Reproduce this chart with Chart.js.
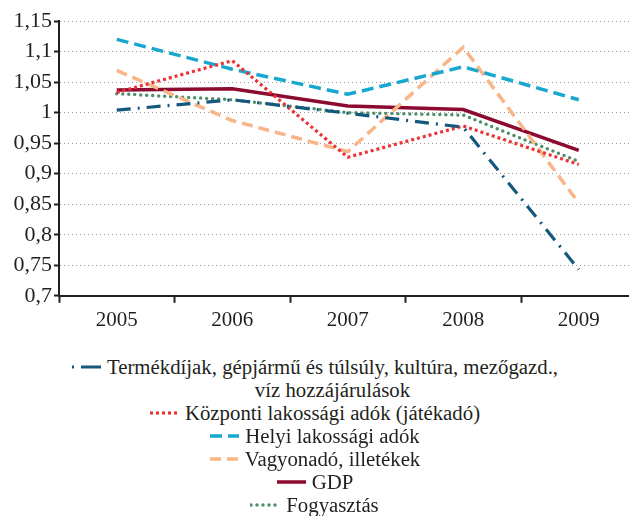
<!DOCTYPE html>
<html>
<head>
<meta charset="utf-8">
<script src="https://cdn.jsdelivr.net/npm/chart.js@4/dist/chart.umd.min.js"></script>
<style>
  html, body { margin: 0; padding: 0; background: #fff; overflow: hidden; width: 629px; height: 516px; }
  #chartCanvas { display: block; }
  .legend { margin-top: 10px; width: 629px; font-family: "Liberation Serif", serif; font-size: 20.8px; line-height: 23px; color: #231f20; }
  .legend-item { display: flex; justify-content: center; align-items: flex-start; }
  .legend-swatch { flex: none; margin-right: 6px; }
  .legend-text { white-space: pre-line; text-align: center; }
</style>
</head>
<body>
<canvas id="chartCanvas" width="640" height="345"></canvas>
<div id="legend" class="legend"></div>
<script>
const years = ["2005", "2006", "2007", "2008", "2009"];
const yTickLabels = ["0,7", "0,75", "0,8", "0,85", "0,9", "0,95", "1", "1,05", "1,1", "1,15"];

const termekdijak = [1.004, 1.021, 0.999, 0.976, 0.743];
const kozponti = [1.033, 1.085, 0.927, 0.978, 0.915];
const helyi = [1.12, 1.071, 1.03, 1.075, 1.021];
const vagyonado = [1.069, 0.987, 0.936, 1.107, 0.852];
const gdp = [1.037, 1.039, 1.011, 1.005, 0.938];
const fogyasztas = [1.031, 1.021, 1.0, 0.996, 0.92];

const seriesNames = [
  "Termékdíjak, gépjármű és túlsúly, kultúra, mezőgazd.,\nvíz hozzájárulások",
  "Központi lakossági adók (játékadó)",
  "Helyi lakossági adók",
  "Vagyonadó, illetékek",
  "GDP",
  "Fogyasztás",
];

const styles = [
  { color: "#14587d", width: 3.2, dash: [14, 7, 2, 7], cap: "butt" },
  { color: "#ec3232", width: 3.2, dash: [3, 3], cap: "butt" },
  { color: "#17a7cf", width: 3.5, dash: [12, 6], cap: "butt" },
  { color: "#f9b487", width: 3.5, dash: [11, 6], cap: "butt" },
  { color: "#8c0a2f", width: 3.5, dash: [], cap: "butt" },
  { color: "#4f8f6e", width: 3.5, dash: [0, 6], cap: "round" },
];

const seriesData = [termekdijak, kozponti, helyi, vagyonado, gdp, fogyasztas];

function buildLegend() {
  const legend = document.getElementById("legend");
  legend.innerHTML = "";
  seriesNames.forEach((name, i) => {
    const s = styles[i];
    const item = document.createElement("div");
    item.className = "legend-item";
    const sw = document.createElement("canvas");
    sw.className = "legend-swatch";
    sw.width = 30;
    sw.height = 23;
    const c = sw.getContext("2d");
    c.strokeStyle = s.color;
    c.lineWidth = s.width;
    c.lineCap = s.cap;
    // first swatch shows a dot then a dash, like the reference
    c.setLineDash(i === 0 ? [2, 7, 20, 0] : s.dash);
    c.beginPath();
    c.moveTo(1, 12);
    c.lineTo(30, 12);
    c.stroke();
    const text = document.createElement("span");
    text.className = "legend-text";
    text.textContent = name;
    item.append(sw, text);
    legend.appendChild(item);
  });
}

function generateChart() {
  const ctx = document.getElementById("chartCanvas").getContext("2d");

  new Chart(ctx, {
    type: "line",
    data: {
      labels: years,
      datasets: seriesData.map((values, i) => ({
        label: seriesNames[i],
        data: values,
        borderColor: styles[i].color,
        borderWidth: styles[i].width,
        borderDash: styles[i].dash,
        borderCapStyle: styles[i].cap,
        pointRadius: 0,
        tension: 0,
        fill: false,
      })),
    },
    options: {
      responsive: false,
      animation: false,
      layout: { padding: { top: 21, right: 3.5, bottom: 7, left: 0 } },
      plugins: { legend: { display: false }, tooltip: { enabled: false } },
      scales: {
        x: {
          offset: true,
          grid: {
            offset: true,
            drawOnChartArea: false,
            drawTicks: true,
            tickLength: 7,
            tickColor: "#231f20",
            tickWidth: 2,
          },
          border: { color: "#231f20", width: 2 },
          ticks: { color: "#231f20", font: { family: "Liberation Serif", size: 21 }, padding: 5, maxRotation: 0 },
        },
        y: {
          min: 0.7,
          max: 1.15,
          afterFit: (scale) => { scale.width = 59; },
          grid: {
            color: "#9a9a9a",
            lineWidth: 1,
            tickLength: 5,
            tickColor: "#231f20",
            tickWidth: 2,
          },
          border: { color: "#231f20", width: 2, dash: [1, 3] },
          ticks: {
            stepSize: 0.05,
            color: "#231f20",
            font: { family: "Liberation Serif", size: 22 },
            padding: 2,
            callback: (v, i) => yTickLabels[i],
          },
        },
      },
    },
  });
}

buildLegend();
generateChart();
</script>
</body>
</html>
